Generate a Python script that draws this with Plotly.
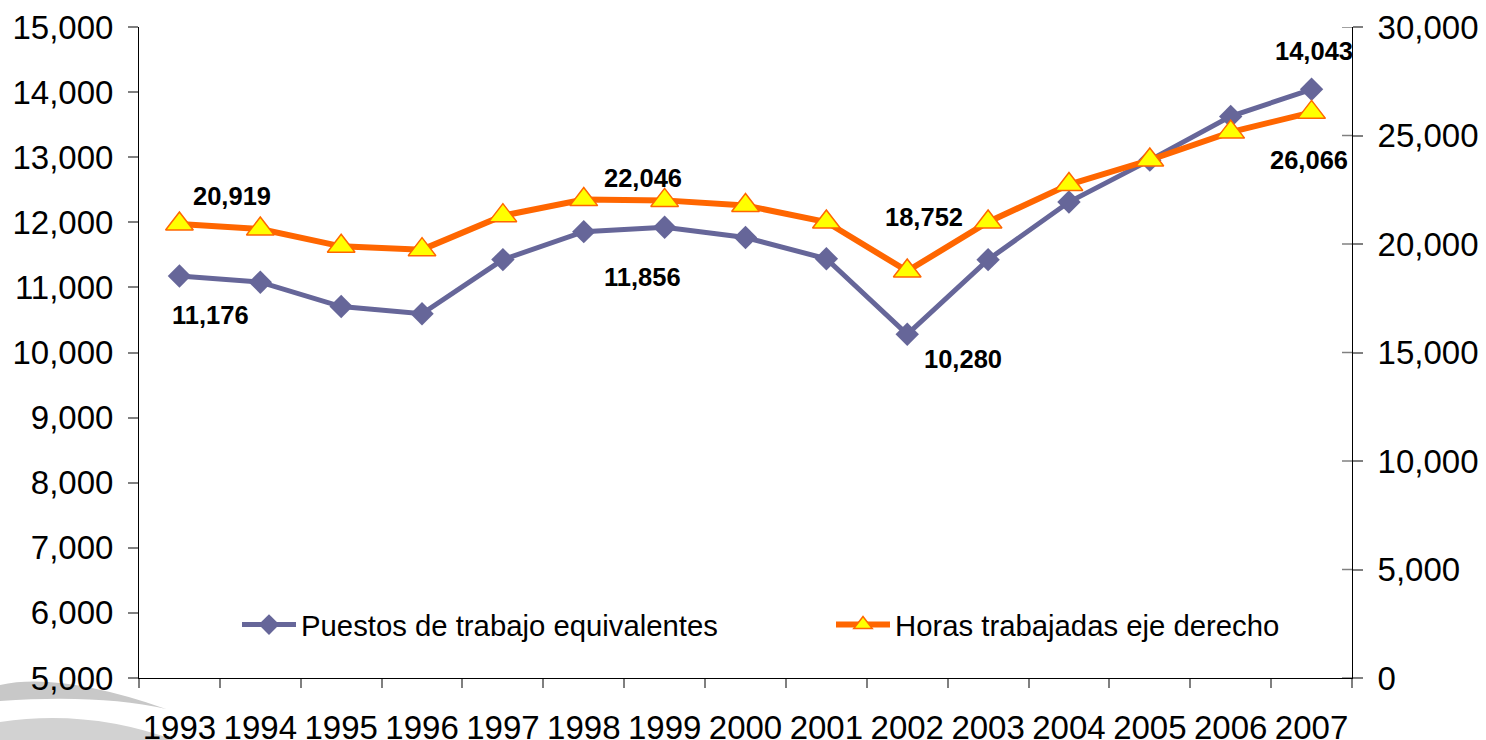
import plotly.graph_objects as go

# ---------------- data ----------------
years = [str(y) for y in range(1993, 2008)]
puestos = [11176, 11080, 10706, 10595, 11427, 11856, 11925, 11766, 11440,
           10280, 11426, 12311, 12955, 13627, 14043]
horas = [20919, 20690, 19893, 19740, 21306, 22046, 22010, 21777, 21012,
         18752, 21013, 22740, 23870, 25156, 26066]
name_puestos = "Puestos de trabajo equivalentes"
name_horas = "Horas trabajadas eje derecho"
left_ticks = list(range(5000, 15001, 1000))
right_ticks = list(range(0, 30001, 5000))
labelled_puestos = ["1993", "1998", "2002", "2007"]
labelled_horas = ["1993", "1998", "2002", "2007"]

# ---------------- style ----------------
FONT = "Liberation Sans, Arial, sans-serif"
BLUE = "#666699"
ORANGE = "#FF6600"
YELLOW = "#FFFF00"
W, H = 1486, 740
ML, MR, MT, MB = 139, 134, 27, 62
PW, PH = W - ML - MR, H - MT - MB

# label offsets (px) relative to the point: (dx right, dy up)
off_p = {"1993": (31, -39), "1998": (59, -45), "2002": (56, -25), "2007": (2, 38)}
off_h = {"1993": (53, 28), "1998": (59, 22), "2002": (17, 54), "2007": (-3, -48)}


def px(x, y):
    return (x - ML) / PW, (H - MB - y) / PH


fig = go.Figure()
fig.add_trace(go.Scatter(
    x=years, y=puestos, name=name_puestos, mode="lines+markers",
    line=dict(color=BLUE, width=5),
    marker=dict(symbol="diamond", size=18, color=BLUE),
    xaxis="x", yaxis="y", legend="legend"))
fig.add_trace(go.Scatter(
    x=years, y=horas, name=name_horas, mode="lines+markers",
    line=dict(color=ORANGE, width=6),
    marker=dict(symbol="triangle-up", size=24, color=YELLOW,
                line=dict(color=ORANGE, width=1.5)),
    xaxis="x", yaxis="y2", legend="legend2"))

label_font = dict(family=FONT, size=25.5, color="black", weight="bold")
annotations = []
for yr in labelled_puestos:
    i = years.index(yr)
    dx, dy = off_p[yr]
    annotations.append(dict(x=i, y=puestos[i], xref="x", yref="y",
                            text=f"{puestos[i]:,}", showarrow=False,
                            xshift=dx, yshift=dy, font=label_font))
for yr in labelled_horas:
    i = years.index(yr)
    dx, dy = off_h[yr]
    annotations.append(dict(x=i, y=horas[i], xref="x", yref="y2",
                            text=f"{horas[i]:,}", showarrow=False,
                            xshift=dx, yshift=dy, font=label_font))

# decorative grey swoosh (bottom-left logo)
a0 = px(0, 685); a1 = px(60, 672); a2 = px(166, 709); a3 = px(100, 694); a4 = px(0, 701)
swoosh1 = (f"M{a0[0]},{a0[1]} Q{a1[0]},{a1[1]} {a2[0]},{a2[1]} "
           f"Q{a3[0]},{a3[1]} {a4[0]},{a4[1]} Z")
b0 = px(0, 722); b1 = px(90, 708); b2 = px(180, 742); b3 = px(0, 742)
swoosh2 = (f"M{b0[0]},{b0[1]} Q{b1[0]},{b1[1]} {b2[0]},{b2[1]} "
           f"L{b3[0]},{b3[1]} Z")
shapes = [
    dict(type="path", xref="paper", yref="paper", path=swoosh1,
         fillcolor="#C8C8C8", line=dict(width=0), layer="below"),
    dict(type="path", xref="paper", yref="paper", path=swoosh2,
         fillcolor="#D2D2D2", line=dict(width=0), layer="below"),
]
# inner half of the right-axis tick marks (Excel "cross" ticks)
for v in right_ticks:
    shapes.append(dict(type="line", xref="paper", yref="y2",
                       x0=1 - 10 / PW, x1=1, y0=v, y1=v,
                       line=dict(color="#808080", width=1.5), layer="above"))

lg1x, lg1y = px(237, 625)
lg2x, lg2y = px(831, 625)

fig.update_layout(
    width=W, height=H,
    margin=dict(l=ML, r=MR, t=MT, b=MB, pad=0, autoexpand=False),
    paper_bgcolor="white", plot_bgcolor="white",
    font=dict(family=FONT, color="black"),
    xaxis=dict(type="category", categoryorder="array", categoryarray=years,
               range=[-0.5, len(years) - 0.5], autorange=False,
               tickson="boundaries", ticks="outside", tickangle=0,
               ticklen=9, tickwidth=1.5, tickcolor="#808080",
               showline=True, linecolor="black", linewidth=1,
               showgrid=False, zeroline=False, automargin=False,
               tickfont=dict(family=FONT, size=33, color="black"),
               ticklabelstandoff=20),
    yaxis=dict(range=[5000, 15000], autorange=False, tickvals=left_ticks,
               ticktext=[f"{v:,}" for v in left_ticks],
               ticks="outside", ticklen=10, tickwidth=1.5, tickcolor="#808080",
               showline=True, linecolor="black", linewidth=1,
               showgrid=False, zeroline=False, automargin=False,
               tickfont=dict(family=FONT, size=33, color="black"),
               ticklabelstandoff=8),
    yaxis2=dict(range=[0, 30000], autorange=False, tickvals=right_ticks,
                ticktext=[f"{v:,}" for v in right_ticks],
                overlaying="y", side="right", anchor="x",
                ticks="outside", ticklen=10, tickwidth=1.5, tickcolor="#808080",
                showline=True, linecolor="black", linewidth=1,
                showgrid=False, zeroline=False, automargin=False,
                tickfont=dict(family=FONT, size=33, color="black"),
                ticklabelstandoff=8),
    legend=dict(x=lg1x, y=lg1y, xanchor="left", yanchor="middle",
                orientation="h", bgcolor="rgba(0,0,0,0)", itemwidth=54,
                font=dict(family=FONT, size=29.3, color="black")),
    legend2=dict(x=lg2x, y=lg2y, xanchor="left", yanchor="middle",
                 orientation="h", bgcolor="rgba(0,0,0,0)", itemwidth=54,
                 font=dict(family=FONT, size=29.3, color="black")),
    showlegend=True,
    annotations=annotations,
    shapes=shapes,
)

fig.write_html("out.html",
               config={"displayModeBar": False},
               post_script="document.body.style.margin='0';"
                           "document.body.style.overflow='hidden';")
